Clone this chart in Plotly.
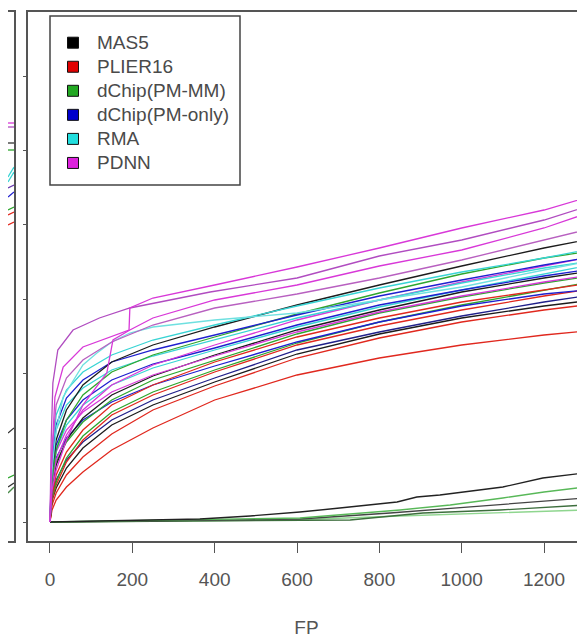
import plotly.graph_objects as go

# ---------------- data ----------------
fp_grid = [0, 5, 15, 40, 80, 150, 250, 400, 600, 800, 1000, 1200, 1300]

# PDNN curves above the bundle
pdnn_1_fp = [0, 3, 12, 32, 80, 146, 192, 194, 250, 400, 600, 800, 900, 1000, 1200, 1300]
pdnn_1_tp = [0, 52, 125, 155, 175, 185, 192, 214, 224, 237, 255, 274, 284, 294, 312, 324]
pdnn_2_fp = [0, 3, 7, 19, 56, 120, 194, 389, 600, 800, 1000, 1200, 1300]
pdnn_2_tp = [0, 82, 139, 172, 192, 204, 214, 230, 244, 266, 282, 302, 315]
pdnn_3_fp = [0, 5, 15, 40, 80, 138, 153, 194, 250, 400, 600, 800, 1000, 1200, 1300]
pdnn_3_tp = [0, 32, 52, 82, 117, 149, 182, 192, 204, 222, 237, 256, 272, 294, 308]
pdnn_4_tp = [0, 72, 117, 144, 162, 180, 197, 214, 228, 244, 262, 282, 292]

# RMA curve that rises early
rma_1_fp = [0, 5, 15, 32, 80, 114, 150, 194, 250, 400, 600, 800, 1000, 1200, 1300]
rma_1_tp = [0, 52, 92, 125, 157, 169, 180, 189, 195, 202, 209, 222, 235, 252, 260]

# main bundle (on fp_grid)
rma_2_tp = [0, 67, 107, 132, 150, 167, 182, 197, 216, 234, 250, 264, 272]
mas5_1_tp = [0, 52, 82, 112, 137, 160, 177, 195, 217, 237, 256, 274, 282]
pmonly_1_tp = [0, 62, 97, 124, 142, 160, 172, 187, 207, 226, 242, 257, 264]
pmmm_1_tp = [0, 42, 72, 102, 127, 150, 167, 185, 208, 229, 248, 264, 270]
rma_3_tp = [0, 57, 92, 117, 134, 152, 166, 182, 204, 222, 239, 254, 260]
pdnn_5_tp = [0, 37, 62, 87, 112, 137, 157, 177, 202, 222, 240, 256, 264]
pmonly_2_tp = [0, 47, 77, 102, 122, 142, 158, 174, 197, 217, 232, 246, 252]
rma_4_tp = [0, 44, 72, 97, 117, 137, 154, 172, 195, 215, 232, 248, 256]
mas5_2_tp = [0, 32, 57, 82, 104, 127, 146, 167, 192, 212, 230, 244, 250]
pmmm_2_tp = [0, 34, 60, 80, 100, 122, 142, 162, 188, 209, 225, 239, 245]
plier_1_tp = [0, 27, 47, 70, 92, 117, 137, 160, 185, 204, 220, 232, 238]
pmonly_3_tp = [0, 37, 64, 84, 102, 120, 137, 156, 180, 200, 216, 228, 232]
plier_2_tp = [0, 22, 37, 60, 82, 107, 127, 150, 177, 196, 212, 226, 232]
pmonly_4_tp = [0, 27, 42, 62, 80, 102, 122, 144, 172, 190, 206, 220, 226]
mas5_3_tp = [0, 22, 34, 54, 74, 97, 117, 140, 168, 188, 204, 216, 221]
plier_3_tp = [0, 17, 29, 47, 65, 88, 112, 136, 164, 184, 200, 212, 217]
pdnn_6_tp = [0, 42, 70, 92, 110, 130, 147, 166, 190, 210, 226, 240, 246]
pmmm_3_tp = [0, 24, 40, 64, 86, 110, 130, 152, 179, 200, 217, 232, 239]
plier_4_tp = [0, 12, 22, 35, 50, 72, 94, 122, 147, 164, 177, 187, 191]

# curves that stay near zero
low_mas5_1_fp = [0, 121, 364, 486, 607, 704, 843, 891, 947, 1100, 1197, 1300]
low_mas5_1_tp = [0, 1, 3, 6, 10, 14, 20, 25, 27, 35, 44, 49]
low_pmmm_1_fp = [0, 607, 850, 972, 1100, 1200, 1300]
low_pmmm_1_tp = [0, 4, 12, 17, 24, 30, 35]
low_mas5_2_fp = [0, 607, 826, 1069, 1200, 1300]
low_mas5_2_tp = [0, 3, 9, 17, 21, 24]
low_pmmm_2_fp = [0, 729, 906, 1093, 1300]
low_pmmm_2_tp = [0, 2, 9, 12, 17]
low_pmmm_3_fp = [0, 364, 583, 850, 1300]
low_pmmm_3_tp = [0, 1, 2, 6, 12]

# neighbouring panel (only its right end is visible)
left_fp = [0, 100]
left_pdnn_1 = [399, 399]
left_pdnn_2 = [395, 395]
left_mas5_1 = [379, 379]
left_pmmm_1 = [372, 372]
left_rma_1 = [345, 355]
left_rma_2 = [340, 350]
left_pmonly_1 = [334, 337]
left_pmonly_2 = [325, 330]
left_pmmm_2 = [312, 315]
left_plier_1 = [307, 310]
left_plier_2 = [297, 300]
left_mas5_low = [89, 94]
left_pmmm_low_1 = [44, 47]
left_mas5_low_2 = [35, 39]
left_pmmm_low_2 = [29, 35]

methods = ["MAS5", "PLIER16", "dChip(PM-MM)", "dChip(PM-only)", "RMA", "PDNN"]
legend_colors = ["#000000", "#e00000", "#22a822", "#0000cc", "#22dede", "#dd22dd"]
x_tick_values = [0, 200, 400, 600, 800, 1000, 1200]
y_tick_values = [0, 74, 149, 223, 298, 372, 446]

# ---------------- styling ----------------
# the page adds an 8px body margin; the figure is sized to fill the rest
W, H = 577, 631
PLOT_TOP, PLOT_BOTTOM = 4, 533          # figure px
PLOT_H = PLOT_BOTTOM - PLOT_TOP


def px_x(px):
    return px / W


def px_y(py):
    return (PLOT_BOTTOM - py) / PLOT_H


C = {
    "MAS5": "#1c1c1c", "PLIER16": "#e0281e", "PMMM": "#2ea62e",
    "PMONLY": "#1f1fcf", "RMA": "#38d4d4", "PDNN": "#d838d8",
    "PDNN2": "#b04cc0", "PDNN3": "#b860c0",
}

fig = go.Figure()


def add(x, y, color, xa="x", ya="y", w=1.3):
    fig.add_trace(go.Scatter(x=x, y=y, mode="lines", line=dict(color=color, width=w),
                             showlegend=False, hoverinfo="skip", xaxis=xa, yaxis=ya))


# low curves
add(low_pmmm_3_fp, low_pmmm_3_tp, "#8fd68f")
add(low_pmmm_2_fp, low_pmmm_2_tp, "#3d6e3d")
add(low_mas5_2_fp, low_mas5_2_tp, "#444444")
add(low_pmmm_1_fp, low_pmmm_1_tp, "#58b858")
add(low_mas5_1_fp, low_mas5_1_tp, "#222222")

# bundle
add(fp_grid, plier_4_tp, C["PLIER16"])
add(fp_grid, plier_3_tp, C["PLIER16"])
add(fp_grid, mas5_3_tp, C["MAS5"])
add(fp_grid, pmonly_4_tp, "#20208a")
add(fp_grid, plier_2_tp, C["PLIER16"])
add(fp_grid, pmmm_3_tp, C["PMMM"])
add(fp_grid, pmonly_3_tp, C["PMONLY"])
add(fp_grid, plier_1_tp, C["PLIER16"])
add(fp_grid, pmmm_2_tp, C["PMMM"])
add(fp_grid, mas5_2_tp, C["MAS5"])
add(fp_grid, pdnn_6_tp, C["PDNN"])
add(fp_grid, rma_4_tp, C["RMA"])
add(fp_grid, pmonly_2_tp, C["PMONLY"])
add(fp_grid, pdnn_5_tp, C["PDNN"])
add(fp_grid, rma_3_tp, C["RMA"])
add(fp_grid, pmmm_1_tp, C["PMMM"])
add(fp_grid, pmonly_1_tp, C["PMONLY"])
add(fp_grid, mas5_1_tp, C["MAS5"])
add(fp_grid, rma_2_tp, C["RMA"])

# upper curves
add(rma_1_fp, rma_1_tp, "#6fe0e0")
add(fp_grid, pdnn_4_tp, C["PDNN3"])
add(pdnn_3_fp, pdnn_3_tp, C["PDNN"])
add(pdnn_2_fp, pdnn_2_tp, C["PDNN2"])
add(pdnn_1_fp, pdnn_1_tp, C["PDNN"])

# left panel curves
for yv, col in [(left_pdnn_1, C["PDNN"]), (left_pdnn_2, C["PDNN2"]), (left_mas5_1, "#333333"),
                (left_pmmm_1, C["PMMM"]), (left_rma_1, C["RMA"]), (left_rma_2, C["RMA"]),
                (left_pmonly_1, "#6a3ab0"), (left_pmonly_2, C["PMONLY"]), (left_pmmm_2, C["PMMM"]),
                (left_plier_1, C["PLIER16"]), (left_plier_2, C["PLIER16"]),
                (left_mas5_low, "#333333"), (left_pmmm_low_1, C["PMMM"]),
                (left_mas5_low_2, "#333333"), (left_pmmm_low_2, "#4a8a4a")]:
    add(left_fp, yv, col, xa="x2", ya="y2")

# legend (box, squares and labels)
LEG_X0, LEG_X1, LEG_Y0, LEG_Y1 = 42, 232, 8, 177
ROW0, ROW_STEP = 34.7, 24.05
SQ_X, SQ_HALF, TEXT_X = 65, 5.5, 87
shapes = [dict(type="rect", xref="paper", yref="paper",
               x0=px_x(LEG_X0), x1=px_x(LEG_X1), y0=px_y(LEG_Y1), y1=px_y(LEG_Y0),
               line=dict(color="#444444", width=1.5), fillcolor="white", layer="above")]
annotations = []
for i, (name, col) in enumerate(zip(methods, legend_colors)):
    cy = ROW0 + i * ROW_STEP
    shapes.append(dict(type="rect", xref="paper", yref="paper",
                       x0=px_x(SQ_X - SQ_HALF), x1=px_x(SQ_X + SQ_HALF),
                       y0=px_y(cy + SQ_HALF), y1=px_y(cy - SQ_HALF),
                       line=dict(color="#111111", width=1), fillcolor=col, layer="above"))
    annotations.append(dict(text=name, xref="paper", yref="paper", x=px_x(TEXT_X), y=px_y(cy),
                            xanchor="left", yanchor="middle", showarrow=False,
                            font=dict(size=19, color="#4a4a4a")))

axis_col = "#555555"
fig.update_layout(
    width=W, height=H,
    margin=dict(l=0, r=0, t=PLOT_TOP, b=H - PLOT_BOTTOM),
    paper_bgcolor="white", plot_bgcolor="white",
    font=dict(family="Liberation Sans, Arial, sans-serif", color="#555555", size=18),
    showlegend=False,
    shapes=shapes, annotations=annotations,
    xaxis=dict(domain=[20 / W, 1], range=[-53.4, 1299.5], tickvals=x_tick_values,
               showgrid=False, zeroline=False, showline=True, linecolor=axis_col,
               linewidth=1.5, mirror=True, ticks="outside", ticklen=10, tickcolor=axis_col,
               tickfont=dict(size=19, color="#555555"), ticklabelstandoff=10,
               title=dict(text="FP", font=dict(size=19, color="#555555"), standoff=32)),
    yaxis=dict(range=[-19, 510], tickvals=y_tick_values, showticklabels=False,
               showgrid=False, zeroline=False, showline=True, linecolor=axis_col,
               linewidth=1.5, ticks="outside", ticklen=3, tickcolor=axis_col),
    xaxis2=dict(domain=[0, 6 / W], range=[0, 100], showgrid=False, zeroline=False,
                showticklabels=False, showline=True, linecolor=axis_col, linewidth=1.5,
                mirror=True, anchor="y2"),
    yaxis2=dict(range=[-19, 510], anchor="x2", side="right", showgrid=False,
                zeroline=False, showticklabels=False, showline=True,
                linecolor=axis_col, linewidth=1.5),
)

fig.write_html("out.html")
